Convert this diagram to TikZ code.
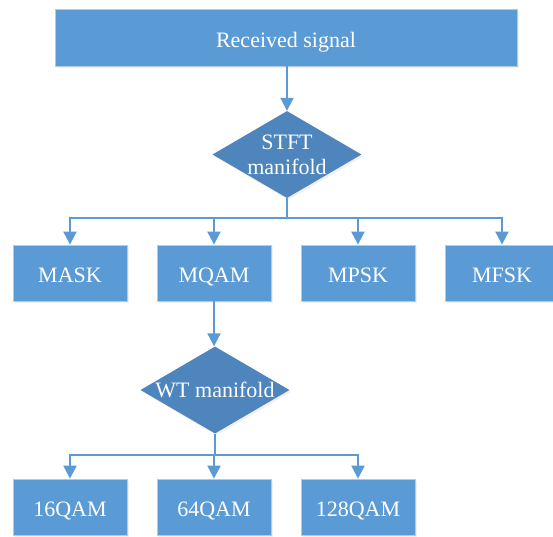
\documentclass[tikz,border=0pt]{standalone}
\usepackage{fontspec}
\setmainfont{Liberation Serif}
\usepackage{tikz}
\usetikzlibrary{positioning, shapes.geometric, arrows.meta, shadows}

\definecolor{boxblue}{HTML}{5B9BD5}
\definecolor{decblue}{HTML}{4D85BC}
\definecolor{edgegray}{HTML}{B7C9E0}

\tikzset{
  stagebox/.style={draw=edgegray, line width=0.8pt, rectangle, fill=boxblue, text=white,
    minimum width=114pt, minimum height=56pt, inner sep=0pt, text height=19pt, text depth=0pt,
    drop shadow={opacity=0.12, shadow xshift=1.5pt, shadow yshift=-2pt}},
  decision/.style={diamond, aspect=1.71, fill=decblue, text=white, align=center, inner sep=0pt,
    minimum width=149pt, minimum height=87pt,
    drop shadow={opacity=0.12, shadow xshift=1.5pt, shadow yshift=-2pt}},
  flow/.style={draw=boxblue, line width=2pt, -{Triangle[width=13pt,length=13pt]}},
  joint/.style={draw=boxblue, line width=2pt}
}

\begin{document}
\begin{tikzpicture}[x=1pt, y=-1pt, font=\fontsize{22}{25}\selectfont]
      \useasboundingbox (0,0) rectangle (553,536);

      \node[stagebox, minimum width=462pt, minimum height=57pt] (rx) at (286, 37.5) {Received signal};
      \node[decision] (stft) at (287, 154.5) {STFT\\manifold};

      \node[stagebox] (mask) at (70, 273) {MASK};
      \node[stagebox] (mqam) at (214, 273) {MQAM};
      \node[stagebox] (mpsk) at (358, 273) {MPSK};
      \node[stagebox] (mfsk) at (502, 273) {MFSK};

      \node[decision] (wt) at (215, 390) {WT manifold};

      \node[stagebox] (q16) at (70, 507) {16QAM};
      \node[stagebox] (q64) at (214, 507) {64QAM};
      \node[stagebox] (q128) at (358, 507) {128QAM};

      \coordinate (j1) at (287, 218);
      \coordinate (j2) at (215, 455);

      \draw[flow] (rx.south -| stft.north) -- (stft.north);

      \draw[joint] (stft.south) -- (j1);
      \draw[flow] (j1) -| (mask.north);
      \draw[flow] (j1) -| (mqam.north);
      \draw[flow] (j1) -| (mpsk.north);
      \draw[flow] (j1) -| (mfsk.north);

      \draw[flow] (mqam.south) -- (mqam.south |- wt.north);

      \draw[joint] (wt.south) -- (j2);
      \draw[flow] (j2) -| (q16.north);
      \draw[flow] (j2) -| (q64.north);
      \draw[flow] (j2) -| (q128.north);
    \end{tikzpicture}
\end{document}
